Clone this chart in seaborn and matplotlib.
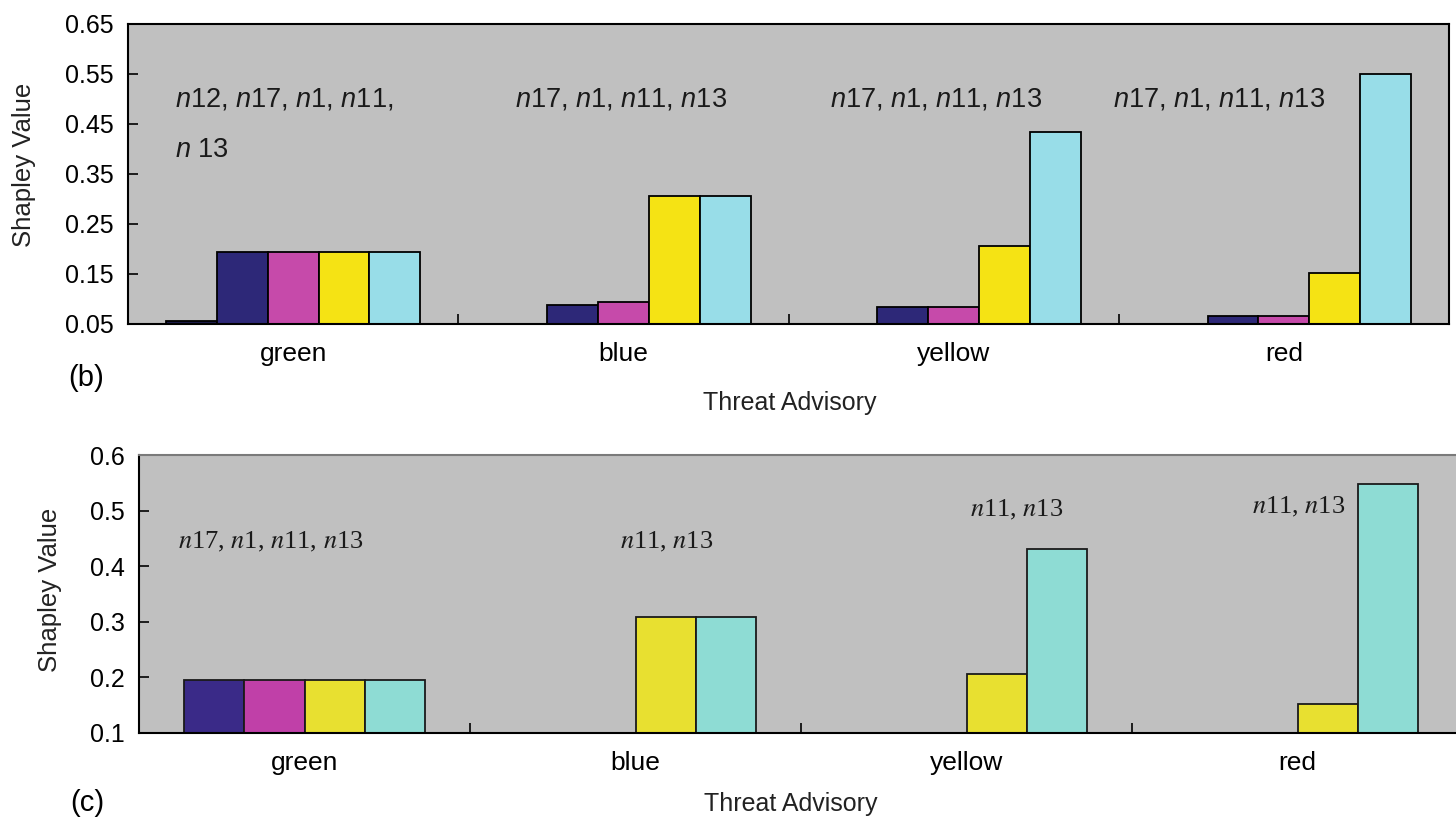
import numpy as np
import pandas as pd
import matplotlib
matplotlib.use("Agg")
import matplotlib.pyplot as plt
import seaborn as sns

# ---------------- data ----------------
categories = ["green", "blue", "yellow", "red"]

# panel (b)
b_series = ["n12", "n17", "n1", "n11", "n13"]
b_n12 = [0.055, np.nan, np.nan, np.nan]
b_n17 = [0.194, 0.087, 0.083, 0.066]
b_n1 = [0.194, 0.093, 0.083, 0.066]
b_n11 = [0.194, 0.305, 0.206, 0.151]
b_n13 = [0.194, 0.305, 0.434, 0.549]
b_yticks = [0.05, 0.15, 0.25, 0.35, 0.45, 0.55, 0.65]
b_labels = ["n12, n17, n1, n11,", "n 13", "n17, n1, n11, n13",
            "n17, n1, n11, n13", "n17, n1, n11, n13"]

# panel (c)
c_series = ["n17", "n1", "n11", "n13"]
c_n17 = [0.195, np.nan, np.nan, np.nan]
c_n1 = [0.195, np.nan, np.nan, np.nan]
c_n11 = [0.195, 0.308, 0.206, 0.152]
c_n13 = [0.195, 0.308, 0.431, 0.547]
c_yticks = [0.1, 0.2, 0.3, 0.4, 0.5, 0.6]
c_labels = ["n17, n1, n11, n13", "n11, n13", "n11, n13", "n11, n13"]

b_colors = ["#1c1c4a", "#2d2878", "#c64aaa", "#f5e314", "#98dde8"]
c_colors = ["#3a2a88", "#c040a8", "#e8e030", "#8edcd4"]

# ---------------- tables ----------------
def long_df(series_names, values):
    rows = []
    for s, vals in zip(series_names, values):
        for cat, v in zip(categories, vals):
            rows.append({"Threat Advisory": cat, "series": s, "value": v})
    return pd.DataFrame(rows).dropna()

df_b = long_df(b_series, [b_n12, b_n17, b_n1, b_n11, b_n13])
df_c = long_df(c_series, [c_n17, c_n1, c_n11, c_n13])

# ---------------- style ----------------
plt.rcParams["font.family"] = ["Liberation Sans", "DejaVu Sans"]
plt.rcParams["mathtext.fontset"] = "custom"
plt.rcParams["mathtext.it"] = "Liberation Sans:italic"
plt.rcParams["mathtext.rm"] = "Liberation Sans"

W, H = 1456, 818
fig = plt.figure(figsize=(W / 100, H / 100), dpi=100)

def px_axes(l, t, r, b):
    return fig.add_axes([l / W, 1 - b / H, (r - l) / W, (b - t) / H])

ax_b = px_axes(128, 24, 1449, 324)
ax_c = px_axes(139, 455, 1463, 733)

sns.barplot(data=df_b, x="Threat Advisory", y="value", hue="series",
            order=categories, hue_order=b_series, palette=b_colors,
            saturation=1, width=0.77, edgecolor="black", linewidth=1.3,
            legend=False, ax=ax_b, errorbar=None)
sns.barplot(data=df_c, x="Threat Advisory", y="value", hue="series",
            order=categories, hue_order=c_series, palette=c_colors,
            saturation=1, width=0.73, edgecolor="#1a1a1a", linewidth=1.3,
            legend=False, ax=ax_c, errorbar=None)

for ax, yt, ylim in [(ax_b, b_yticks, (0.05, 0.65)), (ax_c, c_yticks, (0.1, 0.6))]:
    ax.set_facecolor("#c0c0c0")
    ax.set_xlim(-0.5, 3.5)
    ax.set_ylim(*ylim)
    ax.set_yticks(yt)
    ax.set_yticklabels([f"{v:g}" if ax is ax_c else f"{v:.2f}" for v in yt])
    ax.tick_params(axis="y", direction="in", length=7, width=1.2,
                   labelsize=18, pad=10, colors="black")
    ax.tick_params(axis="x", which="major", length=0, labelsize=19, pad=13)
    ax.set_xticks([0.5, 1.5, 2.5], minor=True)
    ax.tick_params(axis="x", which="minor", direction="in", length=7, width=1.2)
    for sp in ax.spines.values():
        sp.set_linewidth(1.5)
        sp.set_color("black")
    ax.set_ylabel("Shapley Value", fontsize=18.5, color="#222222")
    ax.set_xlabel("Threat Advisory", fontsize=18, color="#222222")

ax_c.spines["top"].set_color("#7a7a7a")
ax_c.spines["right"].set_visible(False)

ax_b.xaxis.set_label_coords(0.501, -0.225)
ax_c.xaxis.set_label_coords(0.492, -0.213)
ax_b.yaxis.set_label_coords(-0.07, 0.53)
ax_c.yaxis.set_label_coords(-0.058, 0.514)

# ---------------- annotations ----------------
def fmt_sans(s):
    out = []
    for tok in s.split(" "):
        if tok.startswith("n") and len(tok) > 1:
            out.append(r"$\mathit{n}$" + tok[1:])
        elif tok == "n":
            out.append(r"$\mathit{n}$")
        else:
            out.append(tok)
    return " ".join(out)

def fmt_serif(s):
    out = []
    for tok in s.split(" "):
        out.append(r"$n$" + tok[1:])
    return " ".join(out)

b_pos = [(-0.358, 0.498), (-0.358, 0.398), (0.672, 0.498), (1.626, 0.498), (2.483, 0.498)]
for (x, y), lab in zip(b_pos, b_labels):
    ax_b.text(x, y, fmt_sans(lab), fontsize=19.5, ha="left", va="center", color="#1a1a1a")

c_pos = [(-0.382, 0.443), (0.953, 0.443), (2.011, 0.502), (2.863, 0.506)]
for (x, y), lab in zip(c_pos, c_labels):
    ax_c.text(x, y, fmt_serif(lab), fontsize=19, ha="left", va="center",
              family=["Liberation Serif", "DejaVu Serif"], math_fontfamily="stix",
              color="#1a1a1a")

fig.text(68 / W, 1 - 378 / H, "(b)", fontsize=21, ha="left", va="center")
fig.text(70 / W, 1 - 803 / H, "(c)", fontsize=21, ha="left", va="center")

fig.savefig("out.png", dpi=100, facecolor="white")
